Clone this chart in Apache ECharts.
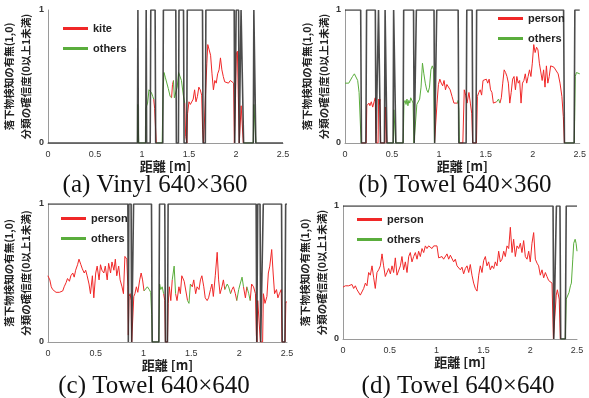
<!DOCTYPE html>
<html>
<head>
<meta charset="utf-8">
<script src="https://cdn.jsdelivr.net/npm/echarts@6/dist/echarts.min.js"></script>
<style>
  html, body { margin: 0; padding: 0; background: #fff; }
  #chart { width: 589px; height: 398px; }
</style>
</head>
<body>
<div id="chart"></div>
<script>
// axis ticks
const xTicks = [0, 0.5, 1, 1.5, 2, 2.5];
const yTicks = [0, 1];

// (a) Vinyl 640x360 : detection (1/0) and confidence
const detA = [[0,0],[0.952,0],[0.957,1],[0.962,0],[1.04,0],[1.045,1],[1.05,0],[1.088,0],[1.094,1],[1.14,1],[1.146,0],
  [1.222,0],[1.228,1],[1.36,1],[1.366,0],[1.388,0],[1.394,1],[1.442,1],[1.448,0],[1.476,0],[1.482,1],[1.644,1],[1.65,0],
  [1.674,0],[1.68,1],[1.981,1],[1.987,0],[1.996,0],[2.002,1],[2.028,1],[2.034,0],[2.048,0],[2.054,1],[2.075,1],[2.081,0],
  [2.184,0],[2.19,1],[2.205,1],[2.211,0],[2.5,0]];
const confA = [[0.952,0],[0.956,0.29],[0.962,0.29],[0.966,0],
  [1.04,0],[1.044,0.26],[1.05,0.28],[1.06,0.30],[1.075,0.40],[1.09,0.41],[1.10,0.38],[1.115,0.35],[1.125,0.33],[1.135,0.26],[1.145,0.25],[1.152,0],
  [1.215,0],[1.225,0.40],[1.235,0.53],[1.25,0.49],[1.265,0.50],[1.28,0.41],[1.30,0.35],[1.315,0.34],[1.325,0.44],[1.335,0.47],[1.345,0.34],
  [1.36,0.33],[1.375,0.42],[1.39,0.53],[1.405,0.52],[1.42,0.47],[1.44,0.36],[1.455,0.30],[1.465,0.05],[1.478,0],[1.485,0.22],[1.50,0.31],
  [1.515,0.29],[1.53,0.28],[1.545,0.33],[1.56,0.40],[1.575,0.31],[1.59,0.35],[1.605,0.42],[1.62,0.40],[1.635,0.36],[1.645,0.10],[1.655,0],
  [1.675,0],[1.69,0.60],[1.70,0.74],[1.715,0.70],[1.73,0.66],[1.745,0.52],[1.76,0.40],[1.775,0.47],[1.79,0.45],[1.805,0.52],[1.82,0.55],
  [1.835,0.64],[1.85,0.55],[1.865,0.50],[1.88,0.46],[1.90,0.45],[1.92,0.45],[1.94,0.47],[1.96,0.46],[1.975,0.45],[1.983,0],
  [1.996,0],[2.003,0.67],[2.015,0.69],[2.028,0.68],[2.035,0],[2.05,0],[2.055,0.28],[2.07,0.28],[2.078,0],
  [2.184,0],[2.19,0.29],[2.205,0.28],[2.212,0]];
const othersA = [[0.94,1.128],[1.21,1.32],[1.34,1.462],[2.18,2.22]];

// (b) Towel 640x360
const detB = [[0,1],[0.167,1],[0.175,0],[0.222,0],[0.23,1],[0.323,1],[0.33,0],[0.35,0],[0.357,1],[0.372,1],[0.378,0],
  [0.42,0],[0.427,1],[0.441,1],[0.447,0],[0.512,0],[0.518,1],[0.536,1],[0.542,0],[0.618,0],[0.625,1],[0.73,1],[0.737,0],
  [0.752,0],[0.76,1],[0.948,1],[0.955,0],[0.97,0],[0.977,1],[1.205,1],[1.212,0],[1.29,0],[1.297,1],[1.354,1],[1.361,0],
  [1.395,0],[1.402,1],[2.328,1],[2.337,0],[2.44,0],[2.448,1],[2.5,1]];
const confB = [[0,0.45],[0.02,0.45],[0.04,0.45],[0.06,0.46],[0.08,0.50],[0.10,0.52],[0.12,0.51],[0.135,0.47],[0.15,0.38],[0.165,0.37],[0.172,0],
  [0.225,0],[0.232,0.28],[0.245,0.27],[0.255,0.30],[0.265,0.28],[0.28,0.31],[0.295,0.27],[0.31,0.31],[0.322,0.34],[0.33,0],
  [0.352,0],[0.358,0.33],[0.365,0.29],[0.372,0.33],[0.378,0],[0.425,0],[0.43,0.27],[0.44,0.26],[0.446,0],[0.515,0],[0.52,0.25],[0.535,0.26],[0.54,0],
  [0.62,0],[0.628,0.30],[0.64,0.32],[0.65,0.29],[0.66,0.33],[0.67,0.28],[0.68,0.32],[0.69,0.30],[0.70,0.34],[0.715,0.34],[0.725,0.30],[0.735,0],
  [0.755,0],[0.765,0.29],[0.78,0.30],[0.795,0.33],[0.81,0.42],[0.825,0.60],[0.84,0.52],[0.855,0.45],[0.87,0.40],[0.885,0.38],[0.90,0.42],
  [0.915,0.55],[0.93,0.58],[0.945,0.55],[0.953,0],[0.972,0],[0.98,0.30],[0.995,0.44],[1.01,0.48],[1.025,0.45],[1.04,0.43],[1.055,0.47],
  [1.07,0.40],[1.085,0.44],[1.10,0.45],[1.12,0.40],[1.14,0.35],[1.16,0.30],[1.18,0.31],[1.20,0.30],[1.205,0.32],[1.212,0.25],[1.218,0],
  [1.255,0],[1.27,0.40],[1.285,0.36],[1.30,0.30],[1.32,0.38],[1.335,0.30],[1.35,0.22],[1.36,0],[1.40,0],[1.41,0.35],[1.425,0.38],
  [1.44,0.40],[1.455,0.36],[1.47,0.47],[1.49,0.46],[1.505,0.48],[1.52,0.45],[1.535,0.48],[1.55,0.40],[1.565,0.38],[1.58,0.30],[1.60,0.30],
  [1.615,0.31],[1.635,0.33],[1.65,0.30],[1.665,0.34],[1.68,0.45],[1.695,0.55],[1.71,0.53],[1.725,0.50],[1.74,0.45],[1.755,0.30],[1.77,0.38],
  [1.785,0.48],[1.80,0.50],[1.815,0.40],[1.83,0.50],[1.845,0.45],[1.86,0.47],[1.875,0.30],[1.89,0.45],[1.905,0.47],[1.92,0.52],[1.935,0.45],
  [1.95,0.50],[1.965,0.55],[1.98,0.50],[1.995,0.60],[2.01,0.74],[2.025,0.68],[2.04,0.72],[2.055,0.70],[2.07,0.60],[2.085,0.59],[2.10,0.47],
  [2.115,0.55],[2.13,0.42],[2.145,0.58],[2.16,0.45],[2.175,0.50],[2.19,0.58],[2.205,0.58],[2.225,0.57],[2.245,0.56],[2.27,0.52],
  [2.29,0.45],[2.31,0.35],[2.325,0.20],[2.337,0],[2.442,0],[2.452,0.50],[2.465,0.53],[2.48,0.52],[2.5,0.52]];
const othersB = [[0,0.175],[0.51,0.545],[0.615,0.965],[1.204,1.222],[1.628,1.66],[2.44,2.5]];

// (c) Towel 640x640
const detC = [[0,1],[0.836,1],[0.841,0],[0.846,1],[0.87,1],[0.876,0],[0.89,0],[0.896,1],[1.083,1],[1.09,0],[1.16,0],[1.167,1],
  [1.222,1],[1.229,0],[1.25,0],[1.257,1],[2.177,1],[2.184,0],[2.194,1],[2.218,1],[2.225,0],[2.245,0],[2.252,1],[2.443,1],
  [2.45,0],[2.478,0],[2.486,1],[2.5,1]];
const confC = [[0,0.48],[0.02,0.45],[0.035,0.40],[0.05,0.38],[0.085,0.36],[0.12,0.36],[0.155,0.37],[0.17,0.40],[0.19,0.43],[0.205,0.46],
  [0.225,0.44],[0.24,0.48],[0.26,0.50],[0.275,0.47],[0.29,0.52],[0.31,0.56],[0.325,0.60],[0.345,0.56],[0.36,0.53],[0.38,0.50],[0.395,0.52],
  [0.41,0.48],[0.43,0.42],[0.445,0.35],[0.465,0.48],[0.48,0.32],[0.50,0.50],[0.515,0.55],[0.535,0.45],[0.55,0.56],[0.565,0.52],[0.585,0.50],
  [0.60,0.55],[0.62,0.45],[0.635,0.57],[0.655,0.50],[0.67,0.58],[0.69,0.52],[0.705,0.60],[0.72,0.48],[0.74,0.55],[0.755,0.45],[0.775,0.40],
  [0.79,0.35],[0.805,0.62],[0.825,0.60],[0.836,0.40],[0.841,0.05],[0.848,0.33],[0.86,0.35],[0.87,0.30],[0.876,0],[0.89,0],[0.898,0.33],
  [0.91,0.35],[0.925,0.40],[0.94,0.36],[0.96,0.45],[0.975,0.50],[0.99,0.45],[1.005,0.37],[1.02,0.38],[1.04,0.40],[1.06,0.38],[1.075,0.36],
  [1.085,0.20],[1.092,0],[1.16,0],[1.168,0.42],[1.18,0.38],[1.195,0.40],[1.21,0.35],[1.222,0.30],[1.229,0],[1.25,0],[1.258,0.28],[1.27,0.40],
  [1.285,0.30],[1.30,0.45],[1.32,0.55],[1.335,0.35],[1.35,0.30],[1.37,0.40],[1.385,0.35],[1.40,0.48],[1.425,0.44],[1.44,0.45],[1.46,0.30],
  [1.475,0.28],[1.49,0.42],[1.51,0.40],[1.525,0.45],[1.545,0.35],[1.56,0.40],[1.58,0.38],[1.595,0.45],[1.61,0.48],[1.63,0.40],[1.645,0.32],
  [1.665,0.30],[1.68,0.32],[1.70,0.38],[1.715,0.42],[1.73,0.33],[1.75,0.48],[1.77,0.65],[1.785,0.45],[1.80,0.35],[1.82,0.40],[1.835,0.45],
  [1.85,0.38],[1.875,0.42],[1.89,0.40],[1.91,0.35],[1.925,0.38],[1.94,0.40],[1.96,0.35],[1.975,0.30],[1.995,0.38],[2.01,0.42],[2.03,0.47],
  [2.045,0.40],[2.065,0.32],[2.08,0.40],[2.10,0.35],[2.115,0.30],[2.13,0.42],[2.15,0.40],[2.17,0.35],[2.18,0.05],[2.186,0],[2.194,0.30],
  [2.21,0.30],[2.222,0],[2.245,0],[2.253,0.35],[2.27,0.28],[2.29,0.33],[2.305,0.50],[2.32,0.55],[2.34,0.67],[2.355,0.50],[2.37,0.35],
  [2.39,0.38],[2.405,0.32],[2.42,0.35],[2.44,0.38],[2.448,0],[2.48,0],[2.488,0.29],[2.5,0.29]];
const othersC = [[1.02,1.10],[1.16,1.215],[1.31,1.34],[1.465,1.50],[1.87,1.915],[1.985,2.055],[2.09,2.12]];

// (d) Towel 640x640
const detD = [[0,1],[2.244,1],[2.252,0],[2.27,0],[2.28,1],[2.318,1],[2.326,0],[2.375,0],[2.385,1],[2.5,1]];
const confD = [[0,0.39],[0.025,0.40],[0.06,0.40],[0.078,0.39],[0.096,0.41],[0.114,0.38],[0.132,0.40],[0.15,0.37],[0.167,0.36],[0.185,0.33],
  [0.203,0.33],[0.221,0.38],[0.239,0.42],[0.256,0.40],[0.274,0.50],[0.292,0.48],[0.31,0.55],[0.328,0.46],[0.345,0.38],[0.363,0.50],
  [0.381,0.52],[0.399,0.55],[0.417,0.64],[0.434,0.55],[0.452,0.47],[0.47,0.50],[0.488,0.53],[0.506,0.49],[0.524,0.55],[0.541,0.50],
  [0.559,0.61],[0.577,0.48],[0.595,0.47],[0.613,0.55],[0.63,0.62],[0.648,0.52],[0.666,0.58],[0.684,0.50],[0.702,0.62],[0.719,0.65],
  [0.737,0.58],[0.755,0.62],[0.773,0.65],[0.791,0.60],[0.808,0.66],[0.826,0.62],[0.844,0.68],[0.862,0.65],[0.88,0.70],[0.897,0.68],
  [0.915,0.70],[0.933,0.70],[0.951,0.68],[0.969,0.70],[0.986,0.70],[1.004,0.70],[1.022,0.61],[1.04,0.61],[1.058,0.62],[1.075,0.60],
  [1.093,0.61],[1.111,0.64],[1.129,0.60],[1.147,0.63],[1.165,0.64],[1.182,0.58],[1.2,0.60],[1.218,0.55],[1.236,0.56],[1.254,0.52],
  [1.271,0.54],[1.289,0.49],[1.307,0.53],[1.325,0.55],[1.343,0.50],[1.36,0.56],[1.378,0.48],[1.396,0.42],[1.414,0.38],[1.432,0.36],
  [1.45,0.48],[1.467,0.55],[1.485,0.50],[1.503,0.59],[1.521,0.62],[1.538,0.55],[1.556,0.58],[1.574,0.52],[1.592,0.55],[1.61,0.53],
  [1.627,0.58],[1.645,0.55],[1.663,0.66],[1.681,0.58],[1.699,0.60],[1.717,0.66],[1.734,0.62],[1.752,0.70],[1.77,0.68],[1.788,0.84],
  [1.806,0.65],[1.823,0.75],[1.841,0.62],[1.859,0.70],[1.877,0.68],[1.895,0.72],[1.912,0.65],[1.93,0.74],[1.948,0.62],[1.966,0.60],
  [1.984,0.66],[2.001,0.58],[2.019,0.72],[2.037,0.80],[2.055,0.60],[2.073,0.57],[2.09,0.55],[2.108,0.48],[2.126,0.52],[2.144,0.46],
  [2.162,0.50],[2.179,0.47],[2.197,0.44],[2.215,0.45],[2.233,0.42],[2.248,0],[2.268,0],[2.278,0.33],[2.29,0.37],[2.31,0.30],[2.322,0],
  [2.375,0],[2.385,0.30],[2.40,0.29],[2.415,0.35],[2.43,0.40],[2.44,0.42],[2.455,0.60],[2.465,0.72],[2.48,0.75],[2.49,0.72],[2.5,0.66]];
const othersD = [[2.37,2.5]];

const classNames = ['kite', 'person', 'person', 'person'];
const captions = ['(a) Vinyl 640×360', '(b) Towel 640×360', '(c) Towel 640×640', '(d) Towel 640×640'];

const panels = [
  { det: detA, conf: confA, others: othersA },
  { det: detB, conf: confB, others: othersB },
  { det: detC, conf: confC, others: othersC },
  { det: detD, conf: confD, others: othersD }
];

// layout (pixels)
const grids = [
  { left: 42, top: 10, width: 241, height: 133 },
  { left: 345, top: 10, width: 240, height: 133 },
  { left: 45, top: 204, width: 242, height: 138 },
  { left: 343, top: 206, width: 234, height: 133 }
];
const legendPos = [[58, 18], [493, 8], [56, 208], [352, 209]];
const captionPos = [[155, 185], [455, 185], [154, 386], [458, 386]];

const RED = '#f02828';
const GREEN = '#5aad3c';

// split a confidence line into red / green pieces; a segment takes the class of its end point
function pieces(conf, others, wantGreen) {
  const green = conf.map(p => others.some(r => p[0] >= r[0] && p[0] <= r[1]));
  const out = [];
  let open = false;
  for (let i = 1; i < conf.length; i++) {
    if (green[i] === wantGreen) {
      if (!open) out.push(conf[i - 1]);
      out.push(conf[i]);
      open = true;
    } else if (open) {
      out.push([conf[i][0], '-']);
      open = false;
    }
  }
  return out;
}

const labelFont = 'Liberation Sans';
const cjkFont = 'Noto Sans CJK JP';

const xAxis = grids.map((g, i) => ({
  type: 'value', gridIndex: i,
  min: xTicks[0], max: xTicks[xTicks.length - 1], interval: xTicks[1] - xTicks[0],
  name: '距離 [m]', nameLocation: 'middle', nameGap: 14,
  nameTextStyle: { fontFamily: cjkFont, fontWeight: 'bold', fontSize: 13, color: '#222' },
  axisLine: { lineStyle: { color: '#9a9a9a', width: 1 } },
  axisTick: { show: false },
  splitLine: { show: false },
  axisLabel: { fontFamily: labelFont, fontSize: 9, color: '#333', margin: 7 }
}));

const yAxis = grids.map((g, i) => ({
  type: 'value', gridIndex: i,
  min: yTicks[0], max: yTicks[yTicks.length - 1], interval: yTicks[1] - yTicks[0],
  name: '落下物検知の有無(1,0)\n分類の確信度(0以上1未満)',
  nameLocation: 'middle', nameRotate: 90, nameGap: 9,
  nameTextStyle: { fontFamily: cjkFont, fontWeight: 'bold', fontSize: 10.5, lineHeight: 17, color: '#222' },
  axisLine: { show: true, lineStyle: { color: '#9a9a9a', width: 1 } },
  axisTick: { show: false },
  splitLine: { show: false },
  axisLabel: { fontFamily: labelFont, fontSize: 9, fontWeight: 'bold', color: '#333', margin: 4 }
}));

const series = [];
panels.forEach((p, i) => {
  series.push({
    name: classNames[i], type: 'line', xAxisIndex: i, yAxisIndex: i,
    data: pieces(p.conf, p.others, false), showSymbol: false, color: RED,
    lineStyle: { color: RED, width: 1 }, z: 2, animation: false
  });
  series.push({
    name: 'others', type: 'line', xAxisIndex: i, yAxisIndex: i,
    data: pieces(p.conf, p.others, true), showSymbol: false, color: GREEN,
    lineStyle: { color: GREEN, width: 1 }, z: 2, animation: false
  });
  series.push({
    name: 'detect', type: 'line', xAxisIndex: i, yAxisIndex: i,
    data: p.det, showSymbol: false, color: '#333',
    lineStyle: { color: 'rgba(45,45,45,0.85)', width: 1.6 }, z: 3, animation: false
  });
});

const legend = legendPos.map((pos, i) => ({
  left: pos[0], top: pos[1], orient: 'vertical', itemGap: 9,
  icon: 'rect', itemWidth: 25, itemHeight: 3,
  data: [classNames[i], 'others'],
  selectedMode: false,
  textStyle: { fontFamily: labelFont, fontWeight: 'bold', fontSize: 11, color: '#222' }
}));

const graphic = captionPos.map((pos, i) => ({
  type: 'text', x: pos[0], y: pos[1],
  style: {
    text: captions[i], textAlign: 'center', textVerticalAlign: 'middle',
    font: '25px "Liberation Serif"', fill: '#111'
  }
}));

const chart = echarts.init(document.getElementById('chart'));
chart.setOption({
  backgroundColor: '#fff',
  animation: false,
  grid: grids,
  xAxis: xAxis,
  yAxis: yAxis,
  legend: legend,
  series: series,
  graphic: graphic
});
</script>
</body>
</html>
